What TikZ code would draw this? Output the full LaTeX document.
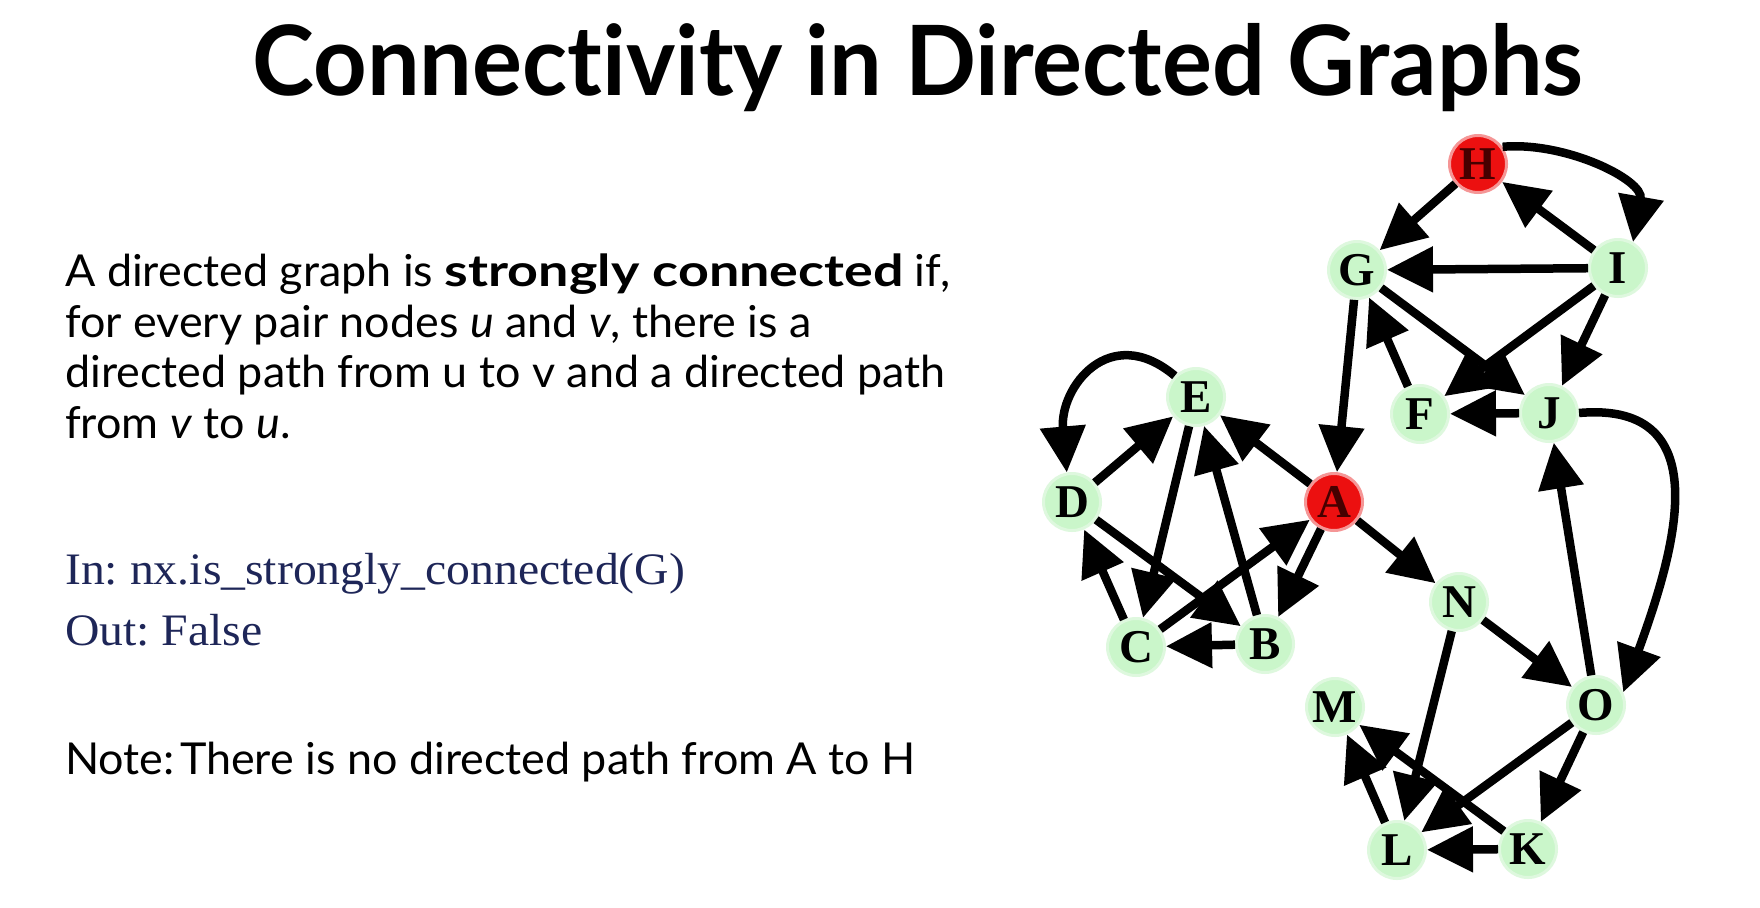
\documentclass[tikz,border=0pt]{standalone}
\usepackage{fontspec}
\usepackage{graphicx}
\setmainfont{Lato}[Ligatures=NoCommon, FakeStretch=1.02]
\newfontfamily\graphserif{Liberation Serif}
\newfontfamily\codeserif{Liberation Serif}[FakeStretch=1.06]
\usetikzlibrary{arrows.meta}
\definecolor{nodegreen}{RGB}{202,246,202}
\definecolor{nodehalo}{RGB}{222,248,222}
\definecolor{nodered}{RGB}{236,16,16}
\definecolor{redhalo}{RGB}{245,150,150}
\definecolor{redtext}{RGB}{70,0,0}
\definecolor{codeblue}{RGB}{30,38,88}
\newcommand{\widebold}[1]{\scalebox{1.2}[1]{\bfseries #1}}
\frenchspacing
\begin{document}
\begin{tikzpicture}[x=1pt,y=1pt,
  vtx/.style={circle, minimum size=57pt, inner sep=0pt, fill=nodegreen,
    draw=nodehalo, line width=3pt,
    font=\graphserif\bfseries\fontsize{47}{47}\selectfont},
  hot/.style={vtx, fill=nodered, draw=redhalo, text=redtext},
  arc/.style={line width=8.5pt, -{Triangle[length=46pt,width=44pt]}},
  bodytext/.style={anchor=base west, inner sep=0pt, font=\fontsize{44}{50}\selectfont},
  codetext/.style={anchor=base west, inner sep=0pt, text=codeblue,
    font=\codeserif\fontsize{45}{50}\selectfont},
]
\useasboundingbox (0,0) rectangle (1760,-907);
\fill[white] (0,0) rectangle (1760,-907);

% title
\node[anchor=base, inner sep=0pt]
  (title) at (918,-95) {\scalebox{0.945}[1]{\bfseries\fontsize{97}{97}\selectfont Connectivity in Directed Graphs}};

% definition text
\node[bodytext] (l1) at (65,-286) {A directed graph is \widebold{strongly connected} if,};
\node[bodytext] (l2) at (65,-337) {for every pair nodes \textit{u} and \textit{v}, there is a};
\node[bodytext] (l3) at (65,-387) {directed path from u to v and a directed path};
\node[bodytext] (l4) at (65,-438) {from \textit{v} to \textit{u}.};

\node[codetext] (in)  at (65,-584) {In: nx.is\_strongly\_connected(G)};
\node[codetext] (out) at (65,-645) {Out: False};

\node[bodytext] (note) at (65,-774) {Note:\hspace{0.12em}There is no directed path from A to H};

% vertices
\node[hot] (H) at (1478,-164) {H};
\node[vtx] (G) at (1357,-270) {G};
\node[vtx] (I) at (1618,-268) {I};
\node[vtx] (F) at (1420,-414) {F};
\node[vtx] (J) at (1549,-413) {J};
\node[vtx] (E) at (1196,-397) {E};
\node[vtx] (D) at (1072,-502) {D};
\node[hot] (A) at (1334,-502) {A};
\node[vtx] (N) at (1459,-602) {N};
\node[vtx] (C) at (1136,-647) {C};
\node[vtx] (B) at (1265,-644) {B};
\node[vtx] (M) at (1335,-707) {M};
\node[vtx] (O) at (1596,-705) {O};
\node[vtx] (L) at (1397,-850) {L};
\node[vtx] (K) at (1528,-849) {K};

% edges
\draw[arc] (H) -- (G);
\draw[arc] (I) -- (H);
\draw[arc] (H.35) to[out=5, in=80] (I.60);
\draw[arc] (I) -- (G);
\draw[arc] (I) -- (F);
\draw[arc] (G) -- (J);
\draw[arc] (I) -- (J);
\draw[arc] (F) -- (G);
\draw[arc] (J) -- (F);
\draw[arc] (G) -- (A);
\draw[arc] (J.east) to[out=5, in=70, looseness=1.3] (O.25);
\draw[arc] (O) -- (J);
\draw[arc] (E.135) to[out=140, in=95, looseness=1.5] (D.100);
\draw[arc] (D) -- (E);
\draw[arc] (A) -- (E);
\draw[arc] (E) -- (C);
\draw[arc] (B) -- (E);
\draw[arc] (D) -- (B);
\draw[arc] (C) -- (A);
\draw[arc] (C) -- (D);
\draw[arc] (A) -- (B);
\draw[arc] (B) -- (C);
\draw[arc] (A) -- (N);
\draw[arc] (N) -- (O);
\draw[arc] (N) -- (L);
\draw[arc] (O) -- (L);
\draw[arc] (O) -- (K);
\draw[arc] (K) -- (M);
\draw[arc] (L) -- (M);
\draw[arc] (K) -- (L);
\end{tikzpicture}
\end{document}
